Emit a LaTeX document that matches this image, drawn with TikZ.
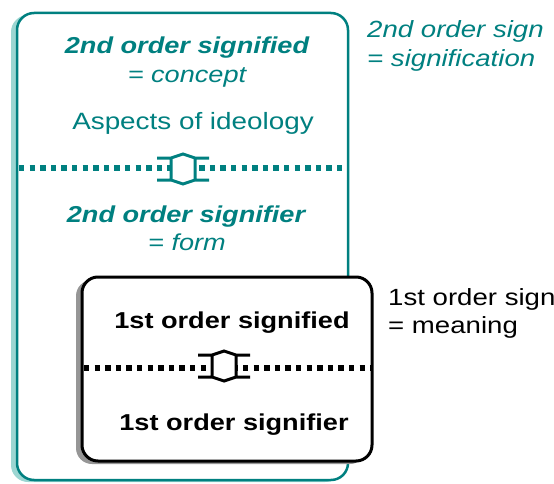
\documentclass[tikz,border=0pt]{standalone}
\usepackage{fontspec}
\setmainfont{Liberation Sans}[FakeStretch=1.18]
\definecolor{sigteal}{RGB}{0,128,128}
\definecolor{tealshade}{RGB}{156,214,210}
\definecolor{greyshade}{RGB}{150,150,150}
\begin{document}
\begin{tikzpicture}[x=1pt,y=-1pt,
  txt/.style={inner sep=0pt, anchor=base, font=\fontsize{23}{27}\selectfont},
  sidetxt/.style={inner sep=0pt, anchor=base west, font=\fontsize{23.4}{27}\selectfont},
  dotline/.style={line width=5.5pt, dash pattern=on 5.3pt off 5.3pt},
  pics/link/.style={code={
    \fill[white] (-12,-11) -- (0,-15) -- (12,-11) -- (12,11) -- (0,15) -- (-12,11) -- cycle;
    \draw[#1, line width=3pt, line join=miter]
      (-26,-11) -- (-12,-11) -- (0,-15) -- (12,-11) -- (26,-11)
      (-26,11) -- (-12,11) -- (0,15) -- (12,11) -- (26,11)
      (-12,-11) -- (-12,11) (12,-11) -- (12,11);
  }}]
\useasboundingbox (0,0) rectangle (554,484);

% second-order sign: outer frame with its shadow
\fill[tealshade, rounded corners=17pt] (11,15) rectangle (342,482);
\draw[sigteal, fill=white, line width=2.5pt, rounded corners=17pt] (17,13) rectangle (348,480);
\coordinate (sepL2) at (19,168);
\coordinate (sepR2) at (348,168);
\draw[sigteal, dotline] (sepL2) -- (sepR2);
\pic at (183,169) {link=sigteal};

\node[txt, sigteal, font=\fontsize{23}{27}\selectfont\bfseries\itshape] (sd2) at (187,54) {2nd order signified};
\node[txt, sigteal, font=\fontsize{23}{27}\selectfont\itshape] (concept) at (187,83) {= concept};
\node[txt, sigteal, font=\fontsize{23.6}{27}\selectfont] (ideo) at (193,130) {Aspects of ideology};
\node[txt, sigteal, font=\fontsize{23}{27}\selectfont\bfseries\itshape] (sr2) at (186,222) {2nd order signifier};
\node[txt, sigteal, font=\fontsize{23}{27}\selectfont\itshape] (form) at (187,250) {= form};

\node[sidetxt, sigteal, font=\fontsize{23.4}{27}\selectfont\itshape] (sign2) at (367,38) {2nd order sign};
\node[sidetxt, sigteal, font=\fontsize{23.4}{27}\selectfont\itshape] (signif) at (367,67) {= signification};

% first-order sign: inner box with its shadow
\fill[greyshade, rounded corners=16pt] (76,280) rectangle (366,464);
\draw[black, fill=white, line width=3pt, rounded corners=16pt] (82,277) rectangle (372,461);
\coordinate (sepL1) at (84,368);
\coordinate (sepR1) at (372,368);
\draw[black, dotline] (sepL1) -- (sepR1);
\pic at (224,366) {link=black};

\node[txt, font=\fontsize{23}{27}\selectfont\bfseries] (sd1) at (232,328) {1st order signified};
\node[txt, font=\fontsize{23}{27}\selectfont\bfseries] (sr1) at (234,430) {1st order signifier};

\node[sidetxt] (sign1) at (388,305) {1st order sign};
\node[sidetxt] (meaning) at (388,333) {= meaning};
\end{tikzpicture}
\end{document}
